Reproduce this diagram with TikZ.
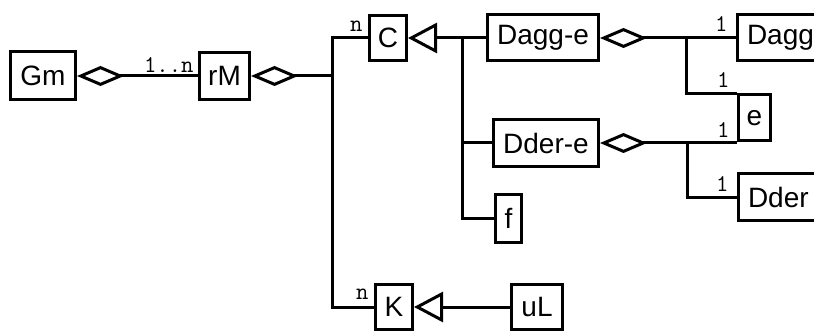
\documentclass[tikz,border=0pt]{standalone}
\usepackage{fontspec}
\setmainfont{Liberation Sans}
\usetikzlibrary{arrows.meta}
\begin{document}
\begin{tikzpicture}[x=1pt,y=-1pt,line width=3pt,
  box/.style={draw,line width=3pt,rectangle,inner sep=0pt,font=\fontsize{28}{30}\selectfont},
  lab/.style={font=\ttfamily\fontsize{24}{26}\selectfont,inner sep=0pt},
  agg/.style={line width=3pt,{Diamond[open,length=47pt,width=20pt]}-},
  gen/.style={line width=3pt,-{Triangle[open,length=29pt,width=30pt]}}
]
\useasboundingbox (0,0) rectangle (814,331);
\clip (0,0) rectangle (814,331);
% boxes
\node[box,minimum width=65pt,minimum height=48pt] (Gm) at (43,76) {Gm};
\node[box,minimum width=50pt,minimum height=47pt] (rM) at (224.5,76) {rM};
\node[box,minimum width=37pt,minimum height=45pt] (C) at (388,38) {C};
\node[box,minimum width=111pt,minimum height=46pt] (Dagge) at (543,38) {Dagg-e};
\node[box,anchor=west,inner xsep=10pt,minimum height=46pt] (Dagg) at (735.5,38) {Dagg};
\node[box,minimum width=32pt,minimum height=46pt] (e) at (754.5,118) {e};
\node[box,minimum width=105pt,minimum height=47pt] (Ddere) at (546,143) {Dder-e};
\node[box,minimum width=26pt,minimum height=48pt] (f) at (508.5,218.5) {f};
\node[box,anchor=west,inner xsep=10pt,minimum height=47pt] (Dder) at (736.5,197.5) {Dder};
\node[box,minimum width=37pt,minimum height=45pt] (K) at (394,307) {K};
\node[box,minimum width=51pt,minimum height=45pt] (uL) at (537,307) {uL};
% junction coordinates
\coordinate (jA) at (332,76);
\coordinate (jG) at (462,0);
\coordinate (jD) at (686,0);
\coordinate (jE) at (687,0);
% connectors
\draw[agg] (Gm.east) -- (rM.west);
\draw[agg] (rM.east) -- (jA);
\draw (C.west) -- (C.west -| jA) -- (K.west -| jA) -- (K.west);
\draw[gen] (Dagge.west) -- (C.east);
\draw (Dagge.west -| jG) -- (f.west -| jG) -- (f.west);
\draw (Ddere.west -| jG) -- (Ddere.west);
\draw[agg] (Dagge.east) -- (Dagg.west);
\draw (Dagge.east -| jD) |- (e.north west);
\draw[agg] (Ddere.east) -- (Ddere.east -| e.west);
\draw (Ddere.east -| jE) |- (Dder.west);
\draw[gen] (uL.west) -- (K.east);
% labels
\node[lab,anchor=south east] (l1) at (195,74) {1..n};
\node[lab,anchor=south east] (l2) at (364,33) {n};
\node[lab,anchor=south east] (l3) at (729,33) {1};
\node[lab,anchor=south east] (l4) at (731,89) {1};
\node[lab,anchor=south east] (l5) at (731,139) {1};
\node[lab,anchor=south east] (l6) at (730,193) {1};
\node[lab,anchor=south east] (l7) at (370,301) {n};
\end{tikzpicture}
\end{document}
